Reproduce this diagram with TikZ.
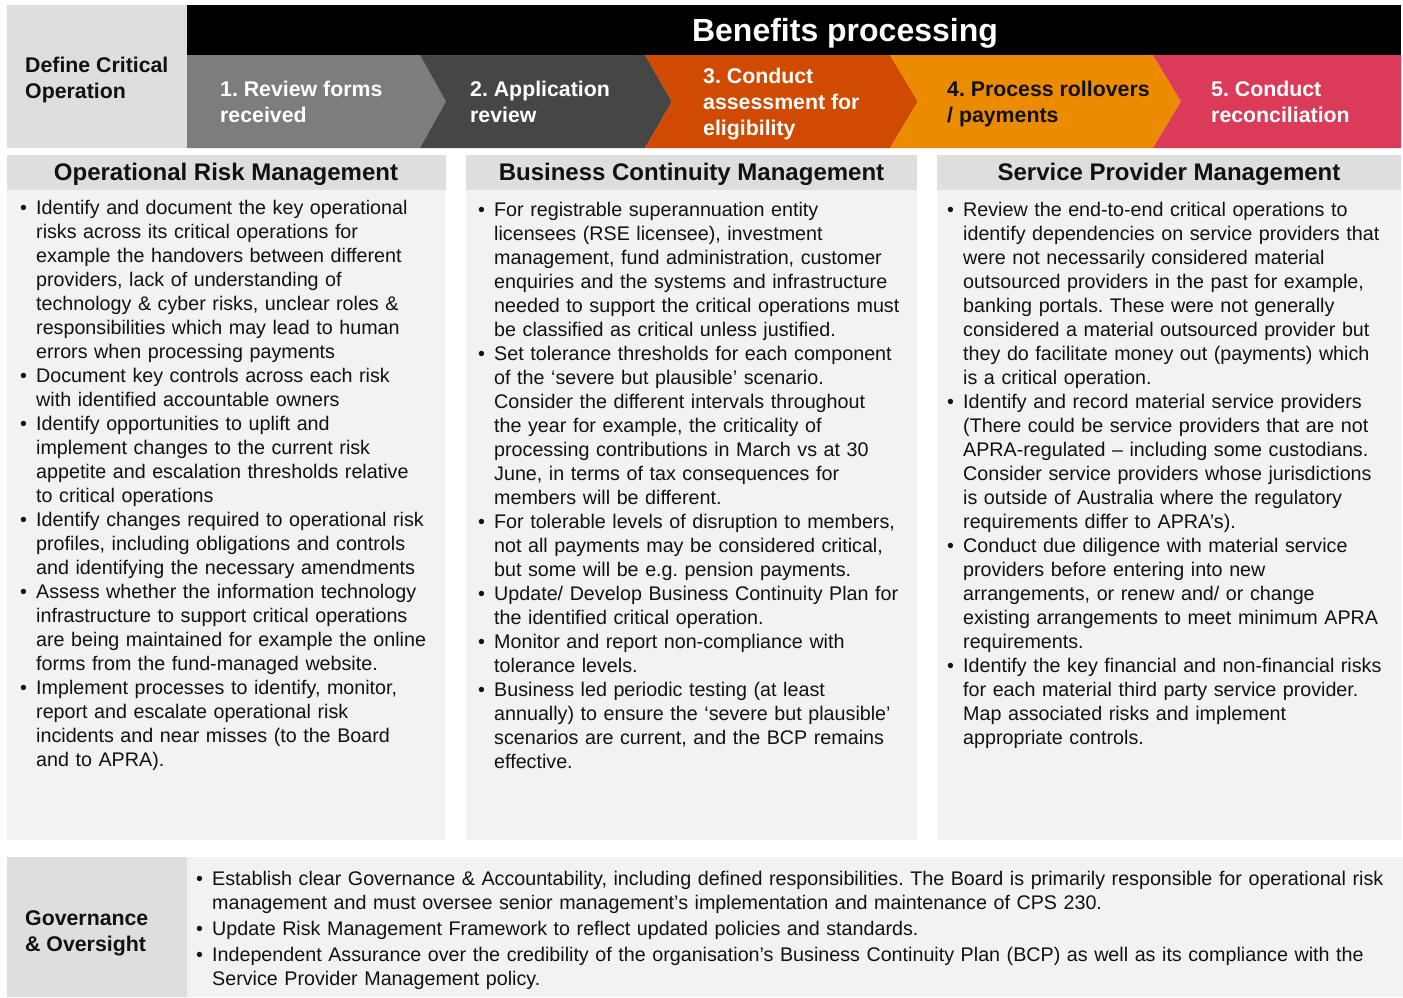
\documentclass[tikz,border=0pt]{standalone}
\usepackage{fontspec}
\setmainfont{Liberation Sans}
\definecolor{hdrgrey}{HTML}{DEDEDE}
\definecolor{bodygrey}{HTML}{F2F2F2}
\definecolor{chevA}{HTML}{7D7D7D}
\definecolor{chevB}{HTML}{464646}
\definecolor{chevC}{HTML}{D04A02}
\definecolor{chevD}{HTML}{EB8C00}
\definecolor{chevE}{HTML}{DB3A58}
\definecolor{txtdark}{HTML}{111111}
\setlength{\parskip}{0pt}
\frenchspacing
\newcommand\bulf{\noindent\hangindent=16pt\hangafter=1\makebox[16pt][l]{\textbullet}}
\newcommand\bul{\par\bulf}
\newcommand\nl{\hfil\break}
\tikzset{
  bodytxt/.style={anchor=base west, inner sep=0pt, text width=460pt, align=left,
    font=\fontsize{19.7}{24}\selectfont, text=txtdark},
  hdrtxt/.style={inner sep=0pt, font=\fontsize{24}{28}\selectfont\bfseries, text=txtdark},
  chevtxt/.style={anchor=west, inner sep=0pt, align=left, font=\fontsize{21.3}{26}\selectfont\bfseries, text=white},
  sidetxt/.style={anchor=west, inner sep=0pt, align=left, font=\fontsize{21.3}{26}\selectfont\bfseries, text=txtdark},
}
\begin{document}
\begin{tikzpicture}[x=1pt,y=-1pt]
\useasboundingbox (0,0) rectangle (1403,997);
% top left box
\fill[hdrgrey] (7,5) rectangle (187,148);
\node[sidetxt] (defc) at (25,80) {Define Critical\\Operation};
% black bar
\fill[black] (187,5) rectangle (1401,55);
\node[inner sep=0pt, font=\fontsize{32}{36}\selectfont\bfseries, text=white] (bp) at (845,33) {Benefits processing};
% chevrons
\fill[chevA] (187,55) -- (420,55) -- (446,101.5) -- (420,148) -- (187,148) -- cycle;
\fill[chevB] (420,55) -- (645,55) -- (672,101.5) -- (645,148) -- (420,148) -- (446,101.5) -- cycle;
\fill[chevC] (645,55) -- (890,55) -- (918,101.5) -- (890,148) -- (645,148) -- (672,101.5) -- cycle;
\fill[chevD] (890,55) -- (1153,55) -- (1181,101.5) -- (1153,148) -- (890,148) -- (918,101.5) -- cycle;
\fill[chevE] (1153,55) -- (1401,55) -- (1401,148) -- (1153,148) -- (1181,101.5) -- cycle;
\node[chevtxt] (s1) at (220,102) {1. Review forms\\received};
\node[chevtxt] (s2) at (470,102) {2. Application\\review};
\node[chevtxt] (s3) at (703,104) {3. Conduct\\assessment for\\eligibility};
\node[chevtxt, text=txtdark] (s4) at (947,104) {4. Process rollovers\\/ payments};
\node[chevtxt] (s5) at (1211,102) {5. Conduct\\reconciliation};
% column headers and bodies
\fill[hdrgrey] (7,155) rectangle (446,190);
\fill[bodygrey] (7,190) rectangle (445,840);
\fill[hdrgrey] (466,155) rectangle (917,190);
\fill[bodygrey] (466,190) rectangle (917,840);
\fill[hdrgrey] (937,155) rectangle (1401,190);
\fill[bodygrey] (937,190) rectangle (1401,840);
\node[hdrtxt] (h1) at (226,174) {Operational Risk Management};
\node[hdrtxt] (h2) at (691.5,174) {Business Continuity Management};
\node[hdrtxt] (h3) at (1169,174) {Service Provider Management};
\node[bodytxt] (c1) at (20,214.5) {%
\bulf Identify and document the key operational\nl risks across its critical operations for\nl example the handovers between different\nl providers, lack of understanding of\nl technology \& cyber risks, unclear roles \&\nl responsibilities which may lead to human\nl errors when processing payments
\bul Document key controls across each risk\nl with identified accountable owners
\bul Identify opportunities to uplift and\nl implement changes to the current risk\nl appetite and escalation thresholds relative\nl to critical operations
\bul Identify changes required to operational risk\nl profiles, including obligations and controls\nl and identifying the necessary amendments
\bul Assess whether the information technology\nl infrastructure to support critical operations\nl are being maintained for example the online\nl forms from the fund-managed website.
\bul Implement processes to identify, monitor,\nl report and escalate operational risk\nl incidents and near misses (to the Board\nl and to APRA).\par};
\node[bodytxt] (c2) at (478,216.5) {%
\bulf For registrable superannuation entity\nl licensees (RSE licensee), investment\nl management, fund administration, customer\nl enquiries and the systems and infrastructure\nl needed to support the critical operations must\nl be classified as critical unless justified.
\bul Set tolerance thresholds for each component\nl of the ‘severe but plausible’ scenario.\nl Consider the different intervals throughout\nl the year for example, the criticality of\nl processing contributions in March vs at 30\nl June, in terms of tax consequences for\nl members will be different.
\bul For tolerable levels of disruption to members,\nl not all payments may be considered critical,\nl but some will be e.g. pension payments.
\bul Update/ Develop Business Continuity Plan for\nl the identified critical operation.
\bul Monitor and report non-compliance with\nl tolerance levels.
\bul Business led periodic testing (at least\nl annually) to ensure the ‘severe but plausible’\nl scenarios are current, and the BCP remains\nl effective.\par};
\node[bodytxt] (c3) at (947,216.5) {%
\bulf Review the end-to-end critical operations to\nl identify dependencies on service providers that\nl were not necessarily considered material\nl outsourced providers in the past for example,\nl banking portals. These were not generally\nl considered a material outsourced provider but\nl they do facilitate money out (payments) which\nl is a critical operation.
\bul Identify and record material service providers\nl (There could be service providers that are not\nl APRA-regulated – including some custodians.\nl Consider service providers whose jurisdictions\nl is outside of Australia where the regulatory\nl requirements differ to APRA’s).
\bul Conduct due diligence with material service\nl providers before entering into new\nl arrangements, or renew and/ or change\nl existing arrangements to meet minimum APRA\nl requirements.
\bul Identify the key financial and non-financial risks\nl for each material third party service provider.\nl Map associated risks and implement\nl appropriate controls.\par};
% bottom section
\fill[hdrgrey] (7,857) rectangle (187,997);
\fill[bodygrey] (187,857) rectangle (1403,997);
\node[sidetxt] (gov) at (25,933) {Governance\\\& Oversight};
\node[bodytxt, text width=1300pt, execute at begin node={\setlength{\parskip}{2pt}}] (g) at (196,885) {%
\bulf Establish clear Governance \& Accountability, including defined responsibilities. The Board is primarily responsible for operational risk\nl management and must oversee senior management’s implementation and maintenance of CPS 230.
\bul Update Risk Management Framework to reflect updated policies and standards.
\bul Independent Assurance over the credibility of the organisation’s Business Continuity Plan (BCP) as well as its compliance with the\nl Service Provider Management policy.\par};
\end{tikzpicture}
\end{document}
